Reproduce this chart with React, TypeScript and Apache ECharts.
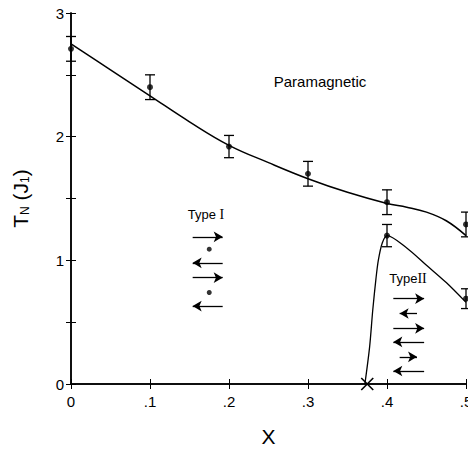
import React, { useEffect, useRef } from "react";
import * as echarts from "echarts";

// Measured points with error bars: [x, T_N, error]
const upperPoints: number[][] = [
  [0.0, 2.71, 0.1],
  [0.1, 2.4, 0.1],
  [0.2, 1.92, 0.09],
  [0.3, 1.7, 0.1],
  [0.4, 1.47, 0.1],
  [0.5, 1.29, 0.1],
];
const lowerPoints: number[][] = [
  [0.4, 1.2, 0.09],
  [0.5, 0.69, 0.08],
];
// Fitted phase boundary curves
const upperCurve: number[][] = [
  [0.0, 2.75], [0.05, 2.54], [0.1, 2.33], [0.15, 2.12], [0.2, 1.93],
  [0.25, 1.79], [0.3, 1.66], [0.35, 1.55], [0.4, 1.46], [0.425, 1.43],
  [0.45, 1.39], [0.475, 1.32], [0.5, 1.2],
];
const lowerCurve: number[][] = [
  [0.372, 0.0], [0.378, 0.3], [0.382, 0.6], [0.386, 0.85], [0.389, 1.0],
  [0.394, 1.14], [0.4, 1.2], [0.425, 1.1], [0.45, 0.96], [0.475, 0.82], [0.5, 0.66],
];
const criticalPoint: number[][] = [[0.375, 0]];
const xTicks = [0, 0.1, 0.2, 0.3, 0.4, 0.5];
const yTicks = [0, 1, 2, 3];

// Spin arrows: [xStart, xEnd, y]
const typeIArrows: number[][] = [
  [0.154, 0.192, 1.19],
  [0.192, 0.154, 0.98],
  [0.154, 0.192, 0.86],
  [0.192, 0.154, 0.63],
];
const typeIDots: number[][] = [[0.175, 1.09], [0.175, 0.74]];
const typeIIArrows: number[][] = [
  [0.408, 0.447, 0.69],
  [0.438, 0.416, 0.57],
  [0.408, 0.447, 0.45],
  [0.447, 0.408, 0.34],
  [0.416, 0.438, 0.22],
  [0.447, 0.408, 0.105],
];

const FONT = "'Liberation Sans', Arial, Helvetica, sans-serif";

export default function App() {
  const ref = useRef<HTMLDivElement>(null);
  useEffect(() => {
    if (!ref.current) return;
    document.body.style.margin = "0";
    const chart = echarts.init(ref.current, null, { renderer: "svg" });
    const errRender = (params: any, api: any) => {
      const x = api.value(0), y = api.value(1), e = api.value(2);
      const t = api.coord([x, y + e]);
      const b = api.coord([x, y - e]);
      const w = 5;
      const st = { stroke: "#000", lineWidth: 1.3 };
      return {
        type: "group",
        children: [
          { type: "line", shape: { x1: t[0], y1: t[1], x2: b[0], y2: b[1] }, style: st },
          { type: "line", shape: { x1: t[0] - w, y1: t[1], x2: t[0] + w, y2: t[1] }, style: st },
          { type: "line", shape: { x1: b[0] - w, y1: b[1], x2: b[0] + w, y2: b[1] }, style: st },
        ],
      };
    };
    const crossRender = (params: any, api: any) => {
      const c = api.coord([api.value(0), api.value(1)]);
      const s = 6;
      const st = { stroke: "#000", lineWidth: 1.6 };
      return {
        type: "group",
        children: [
          { type: "line", shape: { x1: c[0] - s, y1: c[1] - s, x2: c[0] + s, y2: c[1] + s }, style: st },
          { type: "line", shape: { x1: c[0] - s, y1: c[1] + s, x2: c[0] + s, y2: c[1] - s }, style: st },
        ],
      };
    };
    const arrowLines = (arr: number[][]) =>
      arr.map((a) => [{ coord: [a[0], a[2]] }, { coord: [a[1], a[2]] }]);

    const axisCommon = {
      type: "value",
      axisLine: { show: true, lineStyle: { color: "#000", width: 1.5 } },
      axisTick: { show: true, inside: true, length: 5, lineStyle: { color: "#000", width: 1 } },
      splitLine: { show: false },
    };
    chart.setOption({
      animation: false,
      textStyle: { fontFamily: FONT },
      grid: { left: 71, right: 2, top: 13, bottom: 65, containLabel: false, outerBoundsMode: "none" },
      xAxis: [
        {
          ...axisCommon,
          min: 0, max: 0.5, interval: 0.1,
          position: "bottom",
          axisLabel: {
            color: "#000", fontSize: 15, fontFamily: FONT, margin: 10,
            showMaxLabel: true,
            formatter: (v: number) => {
              const t = xTicks.find((k) => Math.abs(k - v) < 1e-6);
              if (t === undefined) return "";
              return t === 0 ? "0" : "." + Math.round(t * 10);
            },
          },
          name: "X",
          nameLocation: "middle",
          nameGap: 42,
          nameTextStyle: { color: "#000", fontSize: 21, lineHeight: 21, fontFamily: FONT },
        },
        {
          ...axisCommon,
          min: 0, max: 0.5, interval: 0.1,
          position: "top",
          axisLabel: { show: false },
        },
      ],
      yAxis: [
        {
          ...axisCommon,
          min: 0, max: 3, interval: 0.5,
          position: "left",
          axisLabel: {
            color: "#000", fontSize: 15, fontFamily: FONT, margin: 7,
            formatter: (v: number) => (yTicks.some((k) => Math.abs(k - v) < 1e-6) ? String(Math.round(v)) : ""),
          },
          name: "{t|T}{s|N}{t| (J}{s|1}{t|)}",
          nameLocation: "middle",
          nameRotate: 90,
          nameGap: 40,
          nameTextStyle: {
            color: "#000",
            rich: {
              t: { fontSize: 21, fontFamily: FONT, color: "#000", lineHeight: 26, verticalAlign: "bottom" },
              s: { fontSize: 12, fontFamily: FONT, color: "#000", lineHeight: 22, verticalAlign: "bottom" },
            },
          },
        },
        {
          ...axisCommon,
          min: 0, max: 3, interval: 0.5,
          position: "right",
          axisLabel: { show: false },
        },
      ],
      series: [
        {
          type: "line", data: upperCurve, smooth: 0.4, showSymbol: false,
          lineStyle: { color: "#000", width: 1.5 }, silent: true,
        },
        {
          type: "line", data: lowerCurve, smooth: 0.3, showSymbol: false,
          lineStyle: { color: "#000", width: 1.3 }, silent: true,
        },
        {
          type: "custom", renderItem: errRender, data: upperPoints.concat(lowerPoints),
          clip: false, silent: true,
        },
        {
          type: "scatter", data: upperPoints.concat(lowerPoints).map((p) => [p[0], p[1]]),
          symbol: "circle", symbolSize: 6, itemStyle: { color: "#000" }, clip: false, silent: true,
        },
        {
          type: "custom", renderItem: crossRender, data: criticalPoint, clip: false, silent: true,
        },
        {
          type: "scatter", data: typeIDots, symbol: "circle", symbolSize: 5,
          itemStyle: { color: "#000" }, silent: true,
          markLine: {
            silent: true, animation: false,
            symbol: ["none", "arrow"], symbolSize: [8, 9],
            label: { show: false },
            lineStyle: { color: "#000", width: 1.3, type: "solid" },
            data: arrowLines(typeIArrows).concat(arrowLines(typeIIArrows)) as any,
          },
        },
      ],
      graphic: [
        {
          type: "text", x: 320, y: 81,
          style: { text: "Paramagnetic", fontSize: 15, fontFamily: FONT, fill: "#000", align: "center", verticalAlign: "middle" },
        },
        {
          type: "text", x: 206, y: 214,
          style: {
            text: "{a|Type }{b|I}",
            align: "center", verticalAlign: "middle",
            rich: {
              a: { fontSize: 13, fontFamily: FONT, fill: "#000" },
              b: { fontSize: 14, fontFamily: "'Liberation Serif', 'DejaVu Serif', serif", fill: "#000" },
            },
          },
        },
        {
          type: "text", x: 408, y: 278,
          style: {
            text: "{a|Type}{b|II}",
            align: "center", verticalAlign: "middle",
            rich: {
              a: { fontSize: 13, fontFamily: FONT, fill: "#000" },
              b: { fontSize: 14, fontFamily: "'Liberation Serif', 'DejaVu Serif', serif", fill: "#000" },
            },
          },
        },
      ],
    });
    return () => chart.dispose();
  }, []);
  return <div ref={ref} style={{ width: 468, height: 449 }} />;
}
